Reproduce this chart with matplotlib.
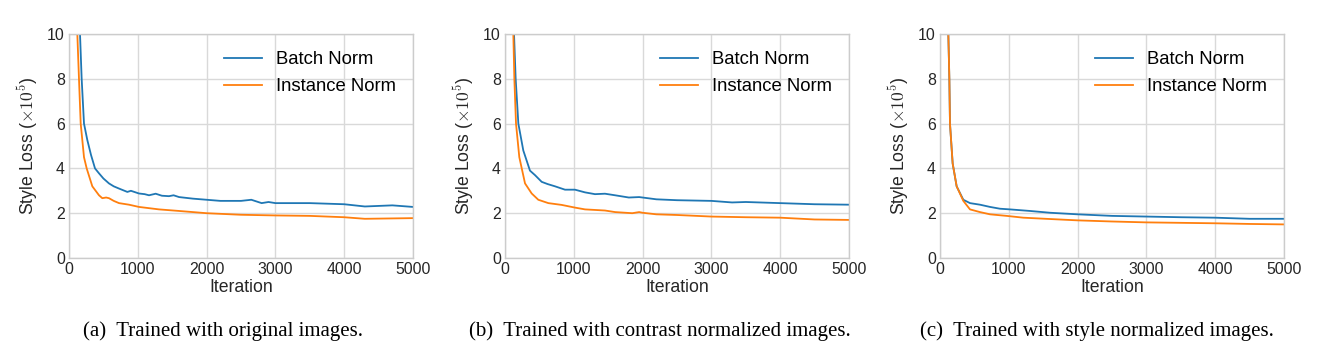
import matplotlib
matplotlib.use('Agg')
import matplotlib.pyplot as plt

plt.rcParams['font.family'] = ['Liberation Sans', 'DejaVu Sans']
plt.rcParams['mathtext.fontset'] = 'cm'

# (a) trained with original images
a_bn_x = [130, 160, 184, 218, 266, 320, 378, 436, 500, 581, 650, 727, 848, 900, 1017, 1100, 1163, 1260,
          1350, 1453, 1520, 1600, 1800, 2000, 2200, 2500, 2650, 2800, 2900, 3000, 3500, 4000, 4300, 4700, 5000]
a_bn_y = [13, 10, 8.0, 6.0, 5.27, 4.6, 4.0, 3.78, 3.55, 3.33, 3.2, 3.1, 2.95, 3.0, 2.88, 2.85, 2.8, 2.87,
          2.78, 2.76, 2.8, 2.72, 2.65, 2.6, 2.55, 2.55, 2.6, 2.45, 2.5, 2.45, 2.45, 2.4, 2.3, 2.35, 2.28]
a_in_x = [105, 121, 145, 170, 218, 257, 339, 436, 484, 540, 581, 650, 727, 872, 1017, 1308, 1600, 2000,
          2500, 3000, 3500, 4000, 4300, 5000]
a_in_y = [13, 10, 8.0, 6.0, 4.5, 4.0, 3.2, 2.8, 2.67, 2.7, 2.67, 2.55, 2.45, 2.38, 2.28, 2.17, 2.1, 2.0,
          1.93, 1.9, 1.88, 1.82, 1.75, 1.78]

# (b) trained with contrast normalized images
b_bn_x = [115, 131, 155, 194, 266, 363, 436, 533, 620, 727, 872, 1017, 1163, 1308, 1453, 1600, 1800, 1950,
          2000, 2200, 2500, 3000, 3300, 3500, 4000, 4500, 5000]
b_bn_y = [13, 10, 8.0, 6.0, 4.8, 3.9, 3.7, 3.4, 3.3, 3.2, 3.05, 3.05, 2.93, 2.85, 2.87, 2.8, 2.7, 2.72,
          2.7, 2.62, 2.58, 2.55, 2.48, 2.5, 2.45, 2.4, 2.38]
b_in_x = [110, 121, 136, 160, 208, 291, 388, 484, 630, 824, 1017, 1163, 1453, 1600, 1850, 1950, 2000,
          2200, 2500, 3000, 3500, 4000, 4500, 5000]
b_in_y = [12, 10, 8.0, 6.0, 4.5, 3.33, 2.88, 2.6, 2.45, 2.37, 2.25, 2.17, 2.12, 2.05, 2.0, 2.05, 2.02,
          1.95, 1.92, 1.85, 1.82, 1.8, 1.72, 1.7]

# (c) trained with style normalized images
c_bn_x = [110, 121, 136, 145, 184, 242, 339, 436, 581, 727, 872, 1017, 1308, 1600, 2000, 2500, 3000,
          3500, 4000, 4500, 5000]
c_bn_y = [12, 10, 8.0, 6.0, 4.22, 3.2, 2.6, 2.45, 2.38, 2.28, 2.2, 2.17, 2.1, 2.02, 1.95, 1.88, 1.85,
          1.82, 1.8, 1.75, 1.75]
c_in_x = [110, 121, 136, 145, 184, 242, 339, 436, 581, 727, 969, 1211, 1600, 2000, 2500, 3000, 3500,
          4000, 4500, 5000]
c_in_y = [12, 10, 8.0, 6.0, 4.22, 3.2, 2.55, 2.17, 2.05, 1.95, 1.88, 1.8, 1.74, 1.68, 1.63, 1.59, 1.57,
          1.55, 1.52, 1.5]

captions = ['(a)  Trained with original images.',
            '(b)  Trained with contrast normalized images.',
            '(c)  Trained with style normalized images.']
panels = [(a_bn_x, a_bn_y, a_in_x, a_in_y),
          (b_bn_x, b_bn_y, b_in_x, b_in_y),
          (c_bn_x, c_bn_y, c_in_x, c_in_y)]

fig = plt.figure(figsize=(13.2, 3.49), dpi=100)
lefts = [69, 505, 940]
cap_x = [223, 660, 1097]

for i, (bx, by, ix, iy) in enumerate(panels):
    ax = fig.add_axes([lefts[i] / 1320, 91 / 349, 344 / 1320, 224 / 349])
    ax.plot(bx, by, color='#1f77b4', lw=1.3, label='Batch Norm')
    ax.plot(ix, iy, color='#ff7f0e', lw=1.3, label='Instance Norm')
    ax.set_xlim(0, 5000)
    ax.set_ylim(0, 10)
    ax.set_xticks([0, 1000, 2000, 3000, 4000, 5000])
    ax.set_yticks([0, 2, 4, 6, 8, 10])
    ax.grid(True, color='#d9d9d9', lw=1.0)
    ax.set_axisbelow(True)
    for s in ax.spines.values():
        s.set_color('#cccccc')
        s.set_linewidth(1.0)
    ax.tick_params(length=0, labelsize=11.4, pad=3, colors='#262626')
    ax.set_xlabel('Iteration', fontsize=12.7, labelpad=1, color='#262626')
    ax.set_ylabel(r'Style Loss ($\times 10^5$)', fontsize=12.7, labelpad=5, color='#262626')
    ax.legend(loc='upper left', frameon=False, fontsize=13.3, handlelength=2.05,
              handletextpad=0.75, borderaxespad=0, bbox_to_anchor=(0.429, 0.957),
              labelspacing=0.56)
    fig.text(cap_x[i] / 1320, 1 - 331 / 349, captions[i], ha='center', va='center',
             fontsize=15, family='Liberation Serif')

fig.savefig('out.png', dpi=100)
